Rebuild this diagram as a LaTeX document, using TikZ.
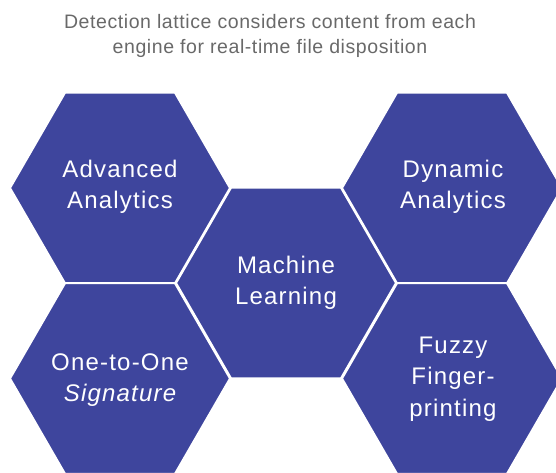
\documentclass[tikz,border=0pt]{standalone}
\usepackage{fontspec}
\setmainfont{Liberation Sans}
\newfontfamily\hexfont[LetterSpace=5]{Liberation Sans}
\newfontfamily\titlefont[LetterSpace=3]{Liberation Sans}
\definecolor{hexblue}{RGB}{62,69,157}
\definecolor{titlegray}{RGB}{105,105,105}
\begin{document}
\begin{tikzpicture}[x=1pt,y=-1pt,
  hexcell/.style={fill=hexblue,draw=white,line width=2pt},
  hexlabel/.style={text=white,align=center,font=\hexfont\fontsize{24}{31.5}\selectfont,inner sep=0pt},
  titlelabel/.style={text=titlegray,align=center,font=\titlefont\fontsize{19.5}{24.5}\selectfont,inner sep=0pt}]
\useasboundingbox (0,0) rectangle (556,472);
\clip (0,0) rectangle (556,472);
\newcommand{\hexat}[2]{\fill[hexcell] (#1+110,#2) -- (#1+55,#2+95.26) -- (#1-55,#2+95.26) -- (#1-110,#2) -- (#1-55,#2-95.26) -- (#1+55,#2-95.26) -- cycle;}
\hexat{120}{188}
\hexat{120}{378.5}
\hexat{286}{283}
\hexat{452}{188}
\hexat{452}{378.5}
\node[titlelabel] (title) at (270,36) {Detection lattice considers content from each\\engine for real-time file disposition};
\node[hexlabel] (aa) at (120,187) {Advanced\\Analytics};
\node[hexlabel] (ml) at (286,283) {Machine\\Learning};
\node[hexlabel] (da) at (453,187) {Dynamic\\Analytics};
\node[hexlabel] (oo) at (120,380) {One-to-One\\\itshape Signature};
\node[hexlabel] (ff) at (453,379) {Fuzzy\\Finger-\\printing};
\end{tikzpicture}
\end{document}
